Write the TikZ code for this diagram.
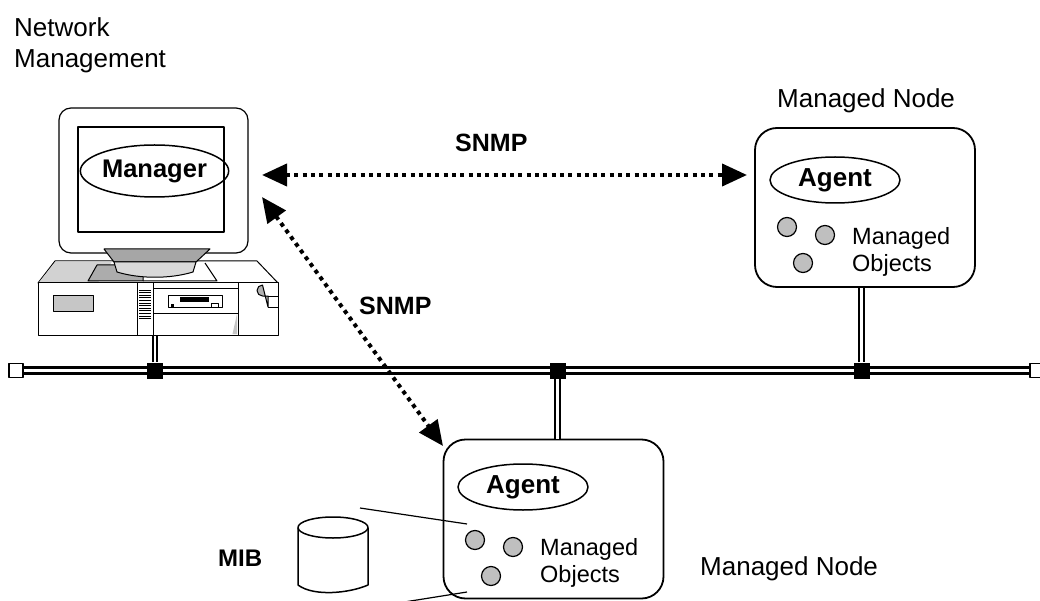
\documentclass[tikz,border=0pt]{standalone}
\usepackage{fontspec}
\setmainfont{Liberation Sans}
\usetikzlibrary{arrows.meta,shapes.geometric,positioning}
\tikzset{
  heading/.style = {anchor=base west, inner sep=0pt, font=\fontsize{26}{30}\selectfont},
  nodelabel/.style = {anchor=base west, inner sep=0pt, font=\fontsize{26}{30}\selectfont},
  mnode/.style = {draw=black, line width=1.8pt, rounded corners=22pt, minimum width=220pt, minimum height=159pt},
  agent/.style = {ellipse, draw=black, line width=1.5pt, minimum width=130pt, minimum height=46pt, inner sep=0pt, font=\fontsize{26}{30}\selectfont\bfseries},
  mobj/.style = {circle, draw=black, line width=1.2pt, fill=gray!50, minimum size=19pt, inner sep=0pt},
  objlabel/.style = {align=left, anchor=north west, inner sep=0pt, font=\fontsize{23.5}{27}\selectfont},
  proto/.style = {anchor=base west, inner sep=0pt, font=\fontsize{25}{30}\selectfont\bfseries},
  bus/.style = {line width=2.7pt, double=white, double distance=3.4pt},
  tap/.style = {line width=2pt, double=white, double distance=2.6pt},
  junction/.style = {rectangle, fill=black, minimum size=16pt, inner sep=0pt},
  busend/.style = {rectangle, draw=black, line width=1.5pt, fill=white, minimum size=14pt, inner sep=0pt},
  snmp/.style = {line width=4pt, dash pattern=on 4pt off 4.3pt,
    {Triangle[length=25pt,width=22pt]}-{Triangle[length=25pt,width=22pt]}},
  pcpart/.style = {draw=black, line width=1pt}
}
\begin{document}
\begin{tikzpicture}[x=1pt, y=-1pt, line join=round]
\useasboundingbox (0,0) rectangle (1040,601);
\clip (0,0) rectangle (1040,601);

% title
\node[heading] (title1) at (14,37) {Network};
\node[heading] (title2) at (14,68) {Management};

% the LAN segment
\coordinate (busL) at (16,370.5);
\coordinate (busR) at (1037,370.5);
\draw[bus] (busL) -- (busR);

% management station: monitor
\node[draw=black, line width=1.2pt, rounded corners=12pt, minimum width=189pt, minimum height=145pt] (monitor) at (153.5,180.5) {};
\node[draw=black, line width=1.2pt, minimum width=146pt, minimum height=105pt] (screen) at (151,179.5) {};
\node[agent, minimum width=137pt, minimum height=52pt, font=\fontsize{25.5}{30}\selectfont\bfseries] (manager) at (154.5,171) {Manager};

% management station: desktop case
\draw[pcpart, fill=white] (55,261) -- (257,261) -- (278,283) -- (38,283) -- cycle;
\fill[gray!35] (55.5,261.5) -- (112,261.5) -- (98,282.5) -- (38.8,282.5) -- cycle;
\filldraw[pcpart, fill=gray!65] (88,281) -- (97,265) -- (143,265) -- (143,281) -- cycle;
\draw[pcpart] (143,281) -- (217,281) -- (205,263);
\node[pcpart, fill=white, minimum width=240pt, minimum height=52pt, inner sep=0pt] (pcbase) at (158,309) {};
\filldraw[pcpart, fill=gray!45] (53,295) rectangle (93,311);
\draw[pcpart] (137,283) -- (137,335) (153,283) -- (153,335) (238,283) -- (238,335);
\draw[pcpart] (153,289) -- (238,289) (153,313) -- (238,313);
\foreach \k in {0,...,11}
  \draw[line width=0.8pt] (139,290+2.6*\k) -- (151,290+2.6*\k);
\draw[pcpart] (168,295) rectangle (222,307);
\fill (180,297) rectangle (209,302);
\fill (171,304) rectangle (174,307);
\draw[line width=0.8pt] (211,303) rectangle (218,307);
\fill[gray!45] (232.5,334) -- (237,314) -- (237,334) -- cycle;
\filldraw[pcpart, fill=gray!60] (268,296) -- (262.5,296) arc[start angle=90, end angle=270, radius=5.5] -- (268,307) -- cycle;
\draw[pcpart] (268,296) -- (278,296) (268,307) -- (278,307);

% management station: monitor stand
\filldraw[pcpart, fill=gray!70] (104,249) -- (210,249) -- (196,262) -- (114,262) -- cycle;
\filldraw[pcpart, fill=gray!30] (114,262) -- (196,262) -- (193,272) .. controls (170,279) and (140,279) .. (117,272) -- cycle;

% managed nodes
\node[mnode] (nodeA) at (865,207.5) {};
\node[mnode] (nodeB) at (553.5,519) {};
\node[nodelabel] (labelA) at (777,108) {Managed Node};
\node[nodelabel] (labelB) at (700,575) {Managed Node};

\node[agent] (agentA) at (835,180) {Agent};
\node[mobj] (objA1) at (787,227) {};
\node[mobj] (objA2) at (825,235) {};
\node[mobj] (objA3) at (803,263) {};
\node[objlabel] (objlabelA) at (852,227) {Managed\\Objects};

\node[agent] (agentB) at (523,487) {Agent};
\node[mobj] (objB1) at (475,540) {};
\node[mobj] (objB2) at (513,547) {};
\node[mobj] (objB3) at (491,576) {};
\node[objlabel] (objlabelB) at (540,538) {Managed\\Objects};

% taps onto the bus
\node[junction] (jM) at (155,370.5) {};
\node[junction] (jB) at (557.5,370.5) {};
\node[junction] (jA) at (861.5,370.5) {};
\draw[tap] (jM.north) -- (jM |- pcbase.south);
\draw[tap] (jB.south) -- (jB |- nodeB.north);
\draw[tap] (jA.north) -- (jA |- nodeA.south);
\node[junction] at (jM) {};
\node[junction] at (jB) {};
\node[junction] at (jA) {};
\node[busend] (endL) at (busL) {};
\node[busend] (endR) at (busR) {};

% MIB store
\filldraw[line width=1.5pt, fill=white] (298,527.5) -- (298,585) .. controls (314,597) and (350,593) .. (368,585) -- (368,527.5);
\draw[line width=1.5pt] (333,527.5) ellipse [x radius=35, y radius=10.5];
\node[proto, font=\fontsize{24}{28}\selectfont\bfseries] (mib) at (218,566) {MIB};
\coordinate (mibA) at (360,508);
\coordinate (mibA') at (467,524);
\coordinate (mibB) at (398,603);
\coordinate (mibB') at (467,592);
\draw[line width=1.2pt] (mibA) -- (mibA');
\draw[line width=1.2pt] (mibB) -- (mibB');

% SNMP exchanges
\coordinate (snmpM1) at (262,175);
\coordinate (snmpA) at (747,175);
\coordinate (snmpM2) at (262,197);
\coordinate (snmpB) at (443,446);
\draw[snmp] (snmpM1) -- (snmpA);
\draw[snmp] (snmpM2) -- (snmpB);
\node[proto] (snmp1) at (455,152) {SNMP};
\node[proto] (snmp2) at (359,314) {SNMP};
\end{tikzpicture}
\end{document}
